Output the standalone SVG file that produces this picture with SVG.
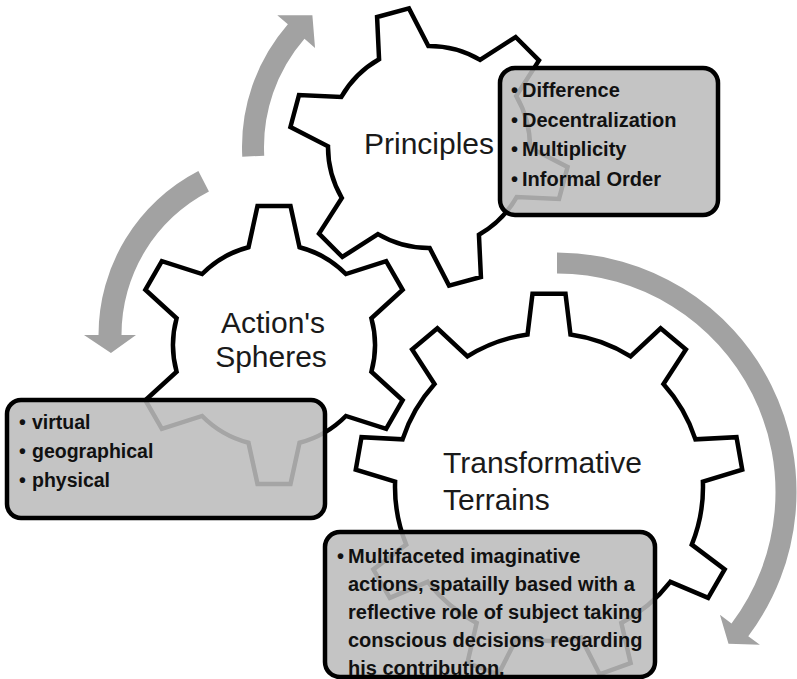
<svg xmlns="http://www.w3.org/2000/svg" xmlns:xlink="http://www.w3.org/1999/xlink" width="797" height="679" viewBox="0 0 797 679">
  <style>
    .gear { fill: #ffffff; stroke: #000000; stroke-width: 4.5; stroke-linejoin: miter; }
    .arrow { fill: #a2a2a2; stroke: none; }
    .box { fill: #bcbcbc; fill-opacity: 0.88; stroke: #000000; stroke-width: 4.5; }
    .label { font-family: "Liberation Sans", Arial, sans-serif; font-size: 30px; fill: #1a1a1a; }
    .item { font-family: "Liberation Sans", Arial, sans-serif; font-size: 20px; font-weight: bold; fill: #111111; }
  </style>
  <defs>
    <!-- six-tooth gear, tip radius 140, root radius 101, centred on the origin -->
    <path id="gear6" d="M -25.51,-97.73 L -16.5,-139.02 L 16.5,-139.02 L 25.51,-97.73 A 101 101 0 0 1 71.88,-70.96 L 112.15,-83.8 L 128.65,-55.22 L 97.39,-26.77 A 101 101 0 0 1 97.39,26.77 L 128.65,55.22 L 112.15,83.8 L 71.88,70.96 A 101 101 0 0 1 25.51,97.73 L 16.5,139.02 L -16.5,139.02 L -25.51,97.73 A 101 101 0 0 1 -71.88,70.96 L -112.15,83.8 L -128.65,55.22 L -97.39,26.77 A 101 101 0 0 1 -97.39,-26.77 L -128.65,-55.22 L -112.15,-83.8 L -71.88,-70.96 A 101 101 0 0 1 -25.51,-97.73 Z"/>
    <!-- nine-tooth gear, tip radius 194, root radius 154, centred on the origin -->
    <path id="gear9" d="M -21.48,-152.49 L -16.5,-193.3 L 16.5,-193.3 L 21.48,-152.49 A 154 154 0 0 1 81.56,-130.62 L 111.61,-158.68 L 136.89,-137.47 L 114.47,-103.01 A 154 154 0 0 1 146.44,-47.63 L 187.5,-49.82 L 193.23,-17.32 L 153.9,-5.33 A 154 154 0 0 1 142.8,57.64 L 175.65,82.36 L 159.15,110.94 L 121.32,94.85 A 154 154 0 0 1 72.34,135.95 L 81.62,176 L 50.61,187.29 L 31.97,150.64 A 154 154 0 0 1 -31.97,150.64 L -50.61,187.29 L -81.62,176 L -72.34,135.95 A 154 154 0 0 1 -121.32,94.85 L -159.15,110.94 L -175.65,82.36 L -142.8,57.64 A 154 154 0 0 1 -153.9,-5.33 L -193.23,-17.32 L -187.5,-49.82 L -146.44,-47.63 A 154 154 0 0 1 -114.47,-103.01 L -136.89,-137.47 L -111.61,-158.68 L -81.56,-130.62 A 154 154 0 0 1 -21.48,-152.49 Z"/>
  </defs>

  <!-- circular arrows turning round the gears -->
  <g id="connectors">
    <path id="arrow-spheres-to-principles" class="arrow" d="M 242.26,156.79 A 187 187 0 0 1 287.87,24.32 L 277.3,15.13 L 312.38,15.18 L 315.04,47.93 L 304.47,38.75 A 165 165 0 0 0 264.23,155.64 Z"/>
    <path id="arrow-principles-to-spheres" class="arrow" d="M 198.38,171.05 A 184.5 184.5 0 0 0 98.5,335 L 84,335 L 110.95,353.08 L 136,335 L 121.5,335 A 161.5 161.5 0 0 1 208.93,191.49 Z"/>
    <path id="arrow-principles-to-terrains" class="arrow" d="M 557,252.5 A 239.5 239.5 0 0 1 748.27,636.14 L 759.85,644.86 L 728.51,643.74 L 719.92,614.77 L 731.5,623.5 A 218.5 218.5 0 0 0 557,273.5 Z"/>
  </g>

  <g id="node-terrains">
    <use xlink:href="#gear9" class="gear" transform="translate(549,487)"/>
    <text class="label" x="443" y="473">Transformative</text>
    <text class="label" x="443" y="510">Terrains</text>
    <rect class="box" x="325" y="532" width="330" height="145" rx="15" ry="15"/>
    <text class="item" x="337" y="563">•<tspan x="348">Multifaceted imaginative</tspan></text>
    <text class="item" x="348" y="591">actions, spatailly based with a</text>
    <text class="item" x="348" y="619">reflective role of subject taking</text>
    <text class="item" x="348" y="647">conscious decisions regarding</text>
    <text class="item" x="348" y="675">his contribution.</text>
  </g>

  <g id="node-spheres">
    <use xlink:href="#gear6" class="gear" transform="translate(274,345)"/>
    <text class="label" x="273" y="333" text-anchor="middle">Action's</text>
    <text class="label" x="271" y="367" text-anchor="middle">Spheres</text>
    <rect class="box" x="7" y="400" width="318" height="118" rx="14" ry="14"/>
    <text class="item" x="19" y="429" style="font-size:19.5px">•<tspan x="32">virtual</tspan></text>
    <text class="item" x="19" y="458" style="font-size:19.5px">•<tspan x="32">geographical</tspan></text>
    <text class="item" x="19" y="487" style="font-size:19.5px">•<tspan x="32">physical</tspan></text>
  </g>

  <g id="node-principles">
    <use xlink:href="#gear6" class="gear" transform="translate(429,147) rotate(-15)"/>
    <text class="label" x="429" y="154" text-anchor="middle">Principles</text>
    <rect class="box" x="500" y="68" width="218" height="147" rx="15" ry="15"/>
    <text class="item" x="511" y="97">•<tspan x="522">Difference</tspan></text>
    <text class="item" x="511" y="126.5">•<tspan x="522">Decentralization</tspan></text>
    <text class="item" x="511" y="156">•<tspan x="522">Multiplicity</tspan></text>
    <text class="item" x="511" y="186">•<tspan x="522">Informal Order</tspan></text>
  </g>
</svg>
